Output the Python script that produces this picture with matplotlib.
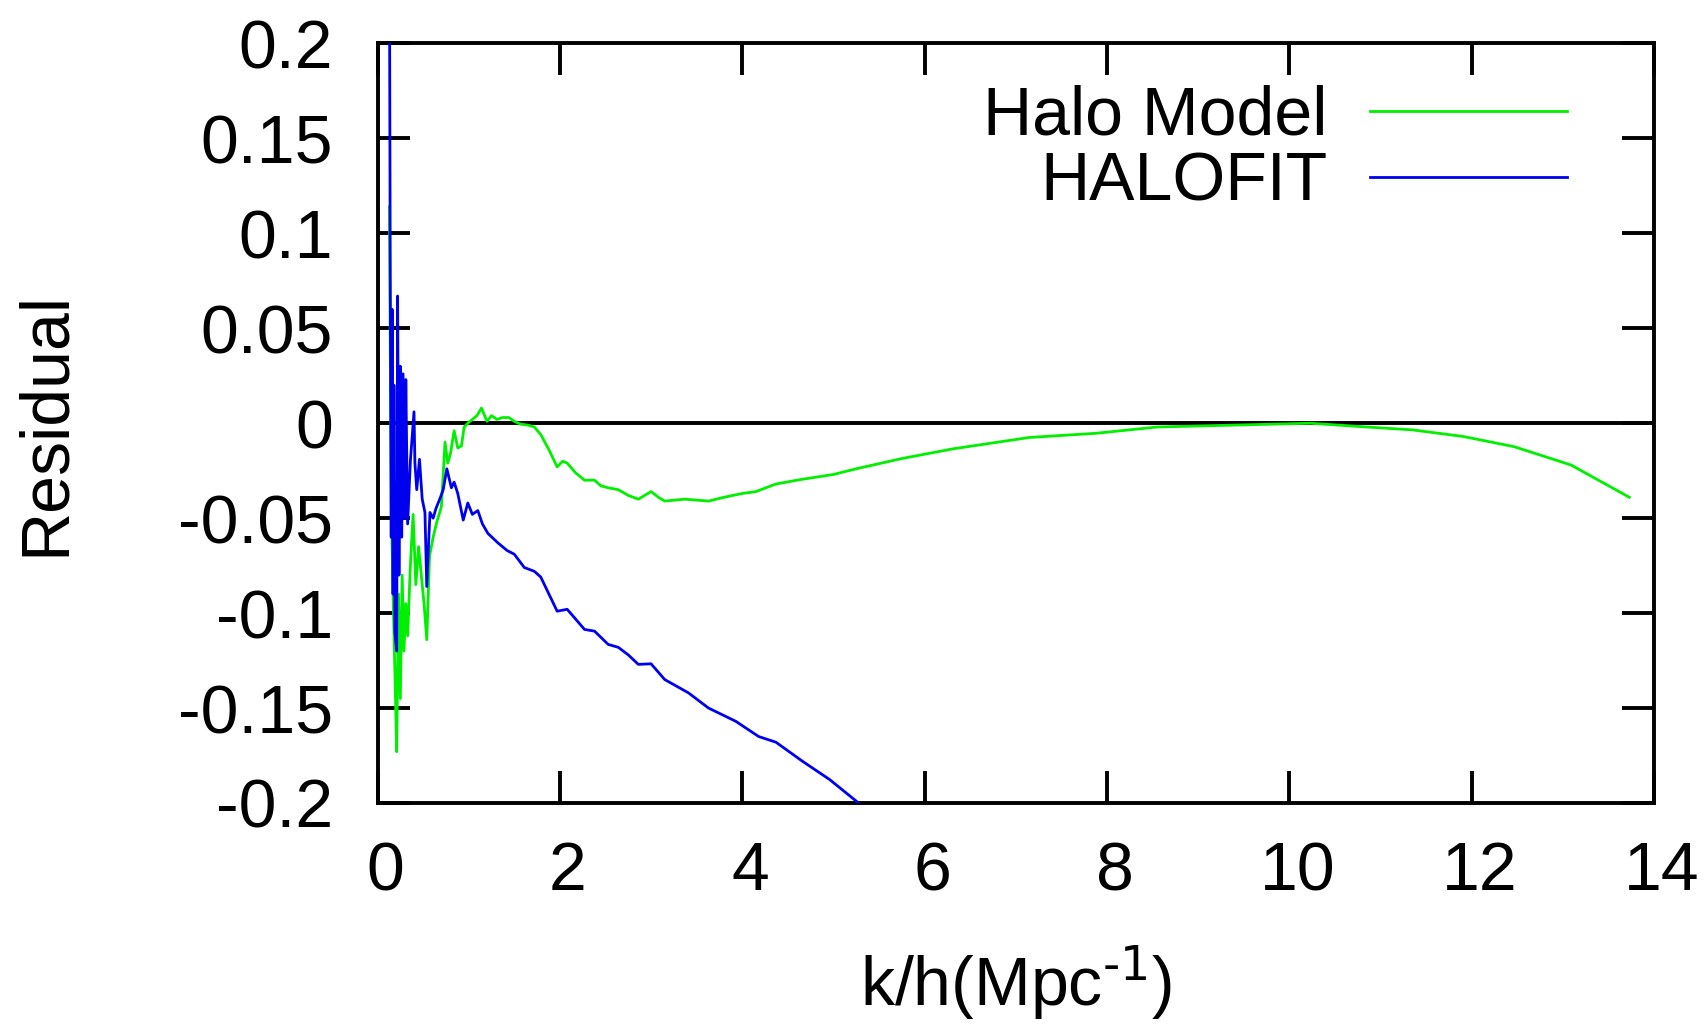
import matplotlib
matplotlib.use('Agg')
import matplotlib.pyplot as plt
import matplotlib.transforms as mtransforms

plt.rcParams['font.family'] = ['Liberation Sans', 'DejaVu Sans']
plt.rcParams['mathtext.default'] = 'regular'

# Halo Model residual
k_halo = [0.13, 0.15, 0.17, 0.19, 0.21, 0.23, 0.25, 0.27, 0.29, 0.31, 0.33,
          0.36, 0.39, 0.42, 0.45, 0.48, 0.51, 0.54, 0.57, 0.61, 0.65, 0.70,
          0.74, 0.77, 0.80, 0.84, 0.88, 0.92, 0.95, 0.99, 1.04, 1.09, 1.14,
          1.20, 1.25, 1.31, 1.37, 1.44, 1.50, 1.57, 1.65, 1.72, 1.79, 1.88,
          1.97, 2.03, 2.08, 2.17, 2.27, 2.38, 2.45, 2.53, 2.64, 2.75, 2.86,
          2.93, 3.00, 3.08, 3.15, 3.37, 3.63, 3.80, 4.00, 4.15, 4.37, 4.66,
          5.00, 5.25, 5.75, 6.31, 6.87, 7.15, 7.88, 8.55, 9.39, 10.23, 10.79,
          11.35, 11.91, 12.47, 13.09, 13.73]
res_halo = [0.114, -0.04, -0.09, -0.13, -0.173, -0.09, -0.145, -0.08, -0.12,
            -0.095, -0.112, -0.075, -0.048, -0.085, -0.065, -0.08, -0.095,
            -0.114, -0.07, -0.06, -0.052, -0.044, -0.010, -0.021, -0.016,
            -0.004, -0.013, -0.012, -0.002, 0.0, 0.002, 0.004, 0.008, 0.001,
            0.004, 0.002, 0.003, 0.003, 0.001, -0.0005, -0.001, -0.002, -0.006,
            -0.014, -0.023, -0.020, -0.021, -0.026, -0.030, -0.030, -0.033,
            -0.034, -0.035, -0.038, -0.040, -0.038, -0.036, -0.039, -0.041,
            -0.040, -0.041, -0.039, -0.037, -0.036, -0.032, -0.0295, -0.027,
            -0.024, -0.0186, -0.0135, -0.0095, -0.0075, -0.0053, -0.002,
            -0.001, 0.0, -0.0018, -0.0035, -0.007, -0.0124, -0.022, -0.039]

# HALOFIT residual
k_fit = [0.13, 0.14, 0.15, 0.16, 0.17, 0.18, 0.19, 0.21, 0.22, 0.235, 0.25,
         0.265, 0.28, 0.30, 0.31, 0.33, 0.36, 0.40, 0.41, 0.43, 0.46, 0.49,
         0.52, 0.54, 0.575, 0.61, 0.64, 0.69, 0.72, 0.76, 0.81, 0.84, 0.88,
         0.94, 0.99, 1.04, 1.10, 1.15, 1.21, 1.32, 1.42, 1.50, 1.61, 1.72,
         1.79, 1.88, 1.97, 2.08, 2.17, 2.27, 2.38, 2.53, 2.64, 2.75, 2.86,
         3.00, 3.15, 3.41, 3.63, 3.93, 4.18, 4.37, 4.66, 4.96, 5.25, 5.40]
res_fit = [0.25, 0.07, -0.06, 0.06, -0.09, 0.02, -0.11, -0.12, 0.067, -0.08,
           0.03, -0.06, 0.026, -0.05, 0.023, -0.053, -0.02, 0.006, -0.021,
           -0.035, -0.019, -0.04, -0.047, -0.086, -0.047, -0.05, -0.045,
           -0.039, -0.035, -0.024, -0.034, -0.031, -0.037, -0.051, -0.042,
           -0.048, -0.046, -0.053, -0.058, -0.063, -0.067, -0.069, -0.076,
           -0.078, -0.081, -0.090, -0.099, -0.098, -0.103, -0.1086, -0.1095,
           -0.1165, -0.118, -0.122, -0.127, -0.1267, -0.135, -0.142, -0.150,
           -0.157, -0.165, -0.168, -0.178, -0.1877, -0.199, -0.205]

xticks = [0, 2, 4, 6, 8, 10, 12, 14]
yticks = [0.2, 0.15, 0.1, 0.05, 0, -0.05, -0.1, -0.15, -0.2]
ylabels = ['0.2', '0.15', '0.1', '0.05', '0', '-0.05', '-0.1', '-0.15', '-0.2']

fig = plt.figure(figsize=(17.06, 10.25), dpi=100)
ax = fig.add_axes([0.2213, 0.2166, 0.7482, 0.741])

ax.axhline(0, color='black', lw=2.8, zorder=1)
ax.plot(k_halo, res_halo, color='#00f000', lw=2.0, label='Halo Model', zorder=2)
ax.plot(k_fit, res_fit, color='#0000f0', lw=2.0, label='HALOFIT', zorder=3)

ax.set_xlim(0, 14)
ax.set_ylim(-0.2, 0.2)
ax.set_xticks(xticks)
ax.set_xticklabels([str(t) for t in xticks])
ax.set_yticks(yticks)
ax.set_yticklabels(ylabels)

for s in ax.spines.values():
    s.set_linewidth(2.8)
ax.tick_params(direction='in', length=23, width=2.8, top=True, right=True,
               labelsize=49)
ax.tick_params(axis='y', pad=32)
ax.tick_params(axis='x', pad=27)

# gnuplot puts x labels a touch to the right
shift = mtransforms.ScaledTranslation(0.08, 0, fig.dpi_scale_trans)
for lbl in ax.get_xticklabels():
    lbl.set_transform(lbl.get_transform() + shift)

ax.set_ylabel('Residual', fontsize=49, labelpad=72)
ax.set_xlabel(r'k/h(Mpc$^{\text{-1}}$)', fontsize=49, labelpad=28)

leg = ax.legend(loc='upper right', bbox_to_anchor=(0.932, 0.946),
                frameon=False, markerfirst=False, fontsize=49,
                handlelength=2.9, handletextpad=0.62, labelspacing=0.03,
                borderpad=0, borderaxespad=0)
for line in leg.get_lines():
    line.set_linewidth(2.0)

fig.savefig('out.png', dpi=100)
